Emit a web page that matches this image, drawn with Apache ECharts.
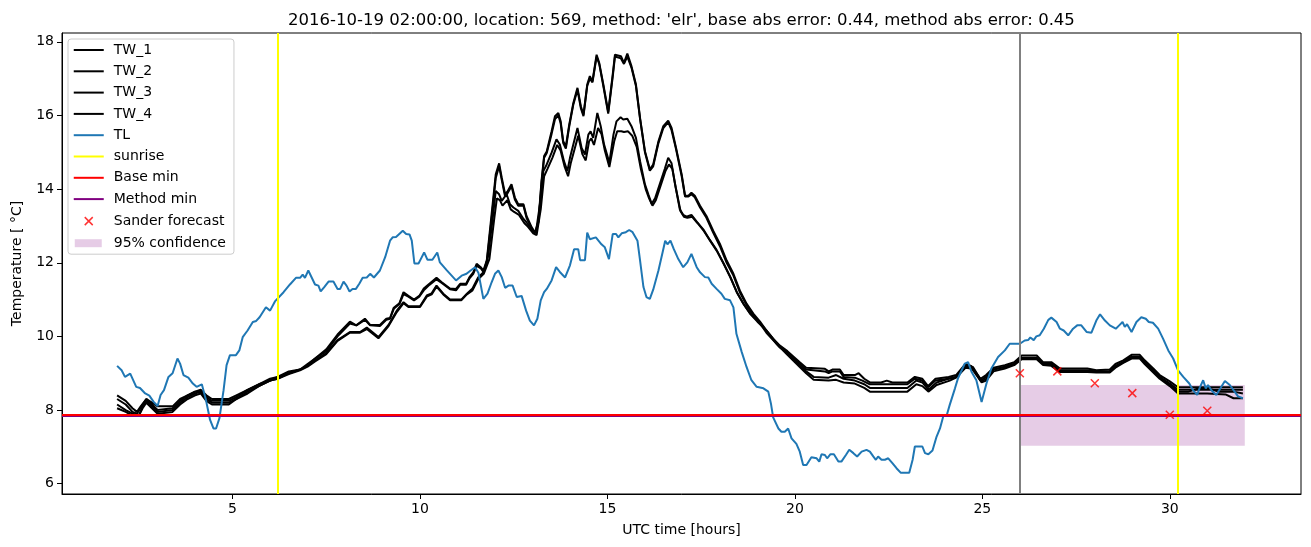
<!DOCTYPE html>
<html>
<head>
<meta charset="utf-8">
<script src="https://cdn.jsdelivr.net/npm/echarts@6/dist/echarts.min.js"></script>
<style>
html,body{margin:0;padding:0;background:#fff;}
#chart{width:1311px;height:547px;}
</style>
</head>
<body>
<div id="chart"></div>
<script>
const titleText = "2016-10-19 02:00:00, location: 569, method: 'elr', base abs error: 0.44, method abs error: 0.45";
const xTicks = [5, 10, 15, 20, 25, 30];
const yTicks = [6, 8, 10, 12, 14, 16, 18];

const tw1 = [[1.92,8.4],[2.15,8.25],[2.33,8.05],[2.45,7.95],[2.55,8.1],[2.7,8.3],[2.85,8.2],[3.0,8.1],[3.4,8.1],[3.6,8.3],[3.8,8.4],[4.0,8.5],[4.15,8.55],[4.3,8.4],[4.45,8.3],[4.9,8.3],[5.1,8.4],[5.4,8.55],[5.7,8.7],[6.0,8.85],[6.2,8.9],[6.5,9.05],[6.8,9.1],[7.0,9.25],[7.2,9.4],[7.5,9.65],[7.8,10.05],[8.13,10.4],[8.3,10.3],[8.53,10.48],[8.67,10.31],[8.93,10.31],[9.1,10.48],[9.2,10.5],[9.3,10.78],[9.45,10.9],[9.56,11.2],[9.69,11.1],[9.84,11.0],[9.98,11.1],[10.1,11.3],[10.25,11.43],[10.44,11.59],[10.58,11.47],[10.8,11.3],[10.96,11.29],[11.07,11.43],[11.23,11.43],[11.32,11.61],[11.42,11.74],[11.51,11.97],[11.62,11.88],[11.69,11.79],[11.78,12.06],[11.91,13.32],[12.02,14.4],[12.11,14.7],[12.18,14.31],[12.27,13.86],[12.33,13.93],[12.44,14.13],[12.53,13.77],[12.62,13.59],[12.76,13.59],[12.84,13.27],[12.98,12.96],[13.07,12.82],[13.16,13.14],[13.24,14.22],[13.31,14.9],[13.38,15.02],[13.51,15.57],[13.6,15.98],[13.69,16.07],[13.75,15.85],[13.82,15.3],[13.89,15.16],[13.98,15.75],[14.09,16.34],[14.2,16.75],[14.29,16.25],[14.36,16.02],[14.46,16.84],[14.53,17.07],[14.6,16.93],[14.71,17.65],[14.78,17.43],[14.89,16.84],[15.02,16.1],[15.14,17.11],[15.2,17.65],[15.36,17.61],[15.44,17.43],[15.53,17.68],[15.64,17.34],[15.76,16.84],[15.87,15.93],[16.0,15.03],[16.13,14.54],[16.22,14.67],[16.36,15.3],[16.49,15.71],[16.62,15.86],[16.71,15.66],[16.83,15.12],[16.98,14.4],[17.07,13.82],[17.16,13.82],[17.24,13.9],[17.33,13.82],[17.47,13.55],[17.64,13.27],[17.82,12.87],[18.0,12.51],[18.18,12.06],[18.36,11.7],[18.53,11.25],[18.71,10.89],[18.89,10.62],[19.07,10.4],[19.24,10.16],[19.42,9.94],[19.6,9.75],[19.8,9.6],[20.13,9.3],[20.3,9.15],[20.8,9.12],[20.9,9.05],[21.0,9.1],[21.2,9.1],[21.3,8.95],[21.6,8.95],[21.7,9.0],[21.85,8.85],[22.0,8.75],[22.3,8.75],[22.45,8.8],[22.6,8.75],[23.0,8.75],[23.2,8.9],[23.4,8.85],[23.55,8.65],[23.75,8.85],[24.1,8.9],[24.3,8.95],[24.55,9.25],[24.7,9.2],[24.95,8.85],[25.1,8.95],[25.3,9.15],[25.6,9.22],[25.85,9.3],[26.05,9.48],[26.45,9.48],[26.62,9.3],[26.84,9.3],[27.07,9.13],[27.8,9.13],[28.04,9.08],[28.4,9.1],[28.55,9.25],[28.76,9.35],[28.98,9.5],[29.2,9.5],[29.33,9.35],[29.56,9.13],[29.73,8.95],[30.0,8.78],[30.22,8.62],[31.95,8.62]];

const tw2 = [[1.92,8.3],[2.15,8.15],[2.33,7.95],[2.45,7.9],[2.6,8.15],[2.7,8.3],[2.85,8.15],[3.0,8.0],[3.4,8.05],[3.6,8.25],[3.8,8.4],[4.0,8.5],[4.15,8.5],[4.3,8.35],[4.45,8.25],[4.9,8.25],[5.1,8.35],[5.4,8.55],[5.7,8.7],[6.0,8.8],[6.2,8.9],[6.5,9.0],[6.8,9.1],[7.0,9.2],[7.2,9.4],[7.5,9.6],[7.8,10.0],[8.13,10.35],[8.3,10.3],[8.53,10.45],[8.67,10.3],[8.93,10.28],[9.1,10.45],[9.2,10.48],[9.3,10.75],[9.45,10.88],[9.56,11.15],[9.69,11.08],[9.84,10.98],[9.98,11.08],[10.1,11.25],[10.25,11.4],[10.44,11.55],[10.58,11.45],[10.8,11.28],[10.96,11.25],[11.07,11.4],[11.23,11.4],[11.32,11.58],[11.42,11.7],[11.51,11.92],[11.62,11.85],[11.69,11.75],[11.78,12.0],[11.91,13.2],[12.02,14.3],[12.11,14.62],[12.18,14.25],[12.27,13.8],[12.33,13.88],[12.44,14.08],[12.53,13.72],[12.62,13.55],[12.76,13.55],[12.84,13.22],[12.98,12.92],[13.07,12.8],[13.16,13.1],[13.24,14.15],[13.31,14.85],[13.38,14.98],[13.51,15.5],[13.6,15.9],[13.69,16.0],[13.75,15.8],[13.82,15.25],[13.89,15.1],[13.98,15.7],[14.09,16.3],[14.2,16.7],[14.29,16.2],[14.36,15.98],[14.46,16.8],[14.53,17.0],[14.6,16.9],[14.71,17.6],[14.78,17.4],[14.89,16.8],[15.02,16.05],[15.14,17.05],[15.2,17.6],[15.36,17.55],[15.44,17.4],[15.53,17.6],[15.64,17.3],[15.76,16.8],[15.87,15.9],[16.0,15.0],[16.13,14.5],[16.22,14.62],[16.36,15.25],[16.49,15.66],[16.62,15.82],[16.71,15.6],[16.83,15.08],[16.98,14.35],[17.07,13.8],[17.16,13.8],[17.24,13.86],[17.33,13.78],[17.47,13.5],[17.64,13.22],[17.82,12.82],[18.0,12.45],[18.18,12.0],[18.36,11.65],[18.53,11.2],[18.71,10.85],[18.89,10.56],[19.07,10.35],[19.24,10.1],[19.42,9.9],[19.6,9.7],[19.8,9.55],[20.13,9.25],[20.3,9.1],[20.8,9.05],[20.9,9.0],[21.0,9.05],[21.2,9.05],[21.3,8.9],[21.6,8.88],[21.8,8.8],[22.0,8.7],[22.4,8.7],[23.0,8.7],[23.2,8.85],[23.4,8.8],[23.55,8.62],[23.75,8.8],[24.1,8.85],[24.3,8.9],[24.55,9.2],[24.7,9.15],[24.95,8.8],[25.1,8.9],[25.3,9.1],[25.6,9.18],[25.85,9.25],[26.05,9.42],[26.45,9.42],[26.62,9.25],[26.84,9.25],[27.07,9.08],[27.8,9.08],[28.04,9.05],[28.4,9.05],[28.55,9.2],[28.76,9.3],[28.98,9.45],[29.2,9.45],[29.33,9.3],[29.56,9.08],[29.73,8.9],[30.0,8.72],[30.22,8.55],[31.95,8.55]];

const tw3 = [[1.92,8.15],[2.15,8.0],[2.33,7.9],[2.5,7.85],[2.6,8.1],[2.7,8.25],[2.85,8.1],[3.0,7.95],[3.4,8.0],[3.6,8.2],[3.8,8.35],[4.0,8.45],[4.15,8.5],[4.3,8.3],[4.45,8.2],[4.9,8.2],[5.1,8.3],[5.4,8.5],[5.7,8.65],[6.0,8.8],[6.2,8.85],[6.5,9.0],[6.8,9.1],[7.0,9.2],[7.2,9.35],[7.5,9.55],[7.8,9.9],[8.13,10.12],[8.4,10.12],[8.58,10.24],[8.89,9.98],[9.16,10.31],[9.38,10.7],[9.56,10.93],[9.69,10.82],[10.0,10.82],[10.18,11.11],[10.31,11.17],[10.44,11.38],[10.62,11.16],[10.8,11.0],[11.1,11.0],[11.25,11.16],[11.4,11.3],[11.55,11.6],[11.7,11.75],[11.82,12.2],[11.95,13.3],[12.02,13.95],[12.11,13.86],[12.18,13.68],[12.31,13.86],[12.4,13.59],[12.49,13.5],[12.62,13.41],[12.76,13.19],[12.84,13.1],[13.0,12.87],[13.09,12.82],[13.2,13.59],[13.29,14.49],[13.38,14.67],[13.51,14.99],[13.64,15.35],[13.73,15.21],[13.84,14.76],[13.93,14.49],[14.0,14.85],[14.2,15.66],[14.31,15.12],[14.4,14.94],[14.49,15.48],[14.55,15.57],[14.62,15.39],[14.73,16.07],[14.82,15.71],[14.91,15.21],[15.05,14.72],[15.16,15.48],[15.24,15.84],[15.35,15.95],[15.42,15.89],[15.53,15.91],[15.64,15.71],[15.76,15.39],[15.87,14.76],[16.0,14.13],[16.09,13.86],[16.18,13.6],[16.27,13.75],[16.4,14.15],[16.53,14.55],[16.62,14.85],[16.71,14.7],[16.8,14.15],[16.93,13.45],[17.02,13.3],[17.11,13.25],[17.24,13.3],[17.38,13.12],[17.56,12.9],[17.73,12.62],[17.91,12.35],[18.09,12.0],[18.27,11.63],[18.44,11.22],[18.62,10.9],[18.8,10.63],[18.98,10.45],[19.16,10.26],[19.33,10.05],[19.51,9.82],[19.8,9.55],[20.13,9.2],[20.3,9.05],[20.5,8.9],[20.9,8.88],[21.1,8.95],[21.3,8.85],[21.6,8.8],[21.85,8.7],[22.0,8.6],[23.0,8.6],[23.24,8.8],[23.4,8.75],[23.56,8.55],[23.78,8.75],[24.13,8.86],[24.3,8.9],[24.55,9.2],[24.75,9.17],[24.98,8.78],[25.1,8.85],[25.3,9.1],[25.6,9.17],[25.85,9.25],[26.05,9.4],[26.45,9.4],[26.62,9.25],[26.84,9.25],[27.07,9.05],[27.8,9.05],[28.04,9.05],[28.4,9.05],[28.55,9.18],[28.76,9.3],[28.98,9.42],[29.2,9.42],[29.33,9.28],[29.56,9.05],[29.73,8.88],[30.0,8.68],[30.22,8.5],[30.5,8.5],[30.8,8.6],[31.0,8.6],[31.3,8.5],[31.7,8.5],[31.95,8.45]];

const tw4 = [[1.92,8.05],[2.15,7.95],[2.33,7.85],[2.5,7.85],[2.6,8.05],[2.7,8.2],[2.85,8.05],[3.0,7.9],[3.4,7.95],[3.6,8.15],[3.8,8.3],[4.0,8.4],[4.15,8.45],[4.3,8.25],[4.45,8.15],[4.9,8.15],[5.1,8.3],[5.4,8.45],[5.7,8.65],[6.0,8.8],[6.2,8.85],[6.5,8.98],[6.8,9.08],[7.0,9.18],[7.2,9.32],[7.5,9.52],[7.8,9.88],[8.13,10.1],[8.4,10.1],[8.58,10.2],[8.89,9.95],[9.16,10.28],[9.38,10.66],[9.56,10.9],[9.69,10.8],[10.0,10.8],[10.18,11.08],[10.31,11.14],[10.44,11.35],[10.62,11.14],[10.8,10.98],[11.1,10.98],[11.25,11.14],[11.4,11.25],[11.55,11.55],[11.7,11.7],[11.85,12.1],[11.98,13.2],[12.05,13.75],[12.13,13.7],[12.2,13.55],[12.33,13.7],[12.42,13.45],[12.51,13.38],[12.64,13.3],[12.78,13.08],[12.86,13.0],[13.02,12.8],[13.11,12.75],[13.22,13.45],[13.31,14.35],[13.4,14.55],[13.53,14.85],[13.66,15.2],[13.75,15.05],[13.86,14.6],[13.95,14.35],[14.02,14.7],[14.22,15.45],[14.33,14.95],[14.42,14.78],[14.51,15.3],[14.57,15.38],[14.64,15.2],[14.75,15.66],[14.84,15.5],[14.93,15.05],[15.05,14.6],[15.18,15.3],[15.26,15.57],[15.37,15.57],[15.44,15.55],[15.55,15.57],[15.66,15.45],[15.78,15.15],[15.89,14.55],[16.02,14.0],[16.11,13.75],[16.2,13.55],[16.29,13.7],[16.42,14.1],[16.55,14.5],[16.64,14.67],[16.73,14.55],[16.82,14.05],[16.95,13.4],[17.04,13.25],[17.13,13.22],[17.26,13.25],[17.4,13.08],[17.58,12.85],[17.75,12.58],[17.93,12.3],[18.11,11.95],[18.29,11.58],[18.46,11.18],[18.64,10.86],[18.82,10.6],[19.0,10.4],[19.18,10.22],[19.35,10.0],[19.53,9.78],[19.8,9.5],[20.13,9.17],[20.3,9.0],[20.5,8.82],[20.9,8.8],[21.1,8.82],[21.3,8.75],[21.6,8.72],[21.85,8.6],[22.0,8.5],[23.0,8.5],[23.24,8.7],[23.4,8.65],[23.56,8.5],[23.78,8.68],[24.13,8.8],[24.3,8.88],[24.55,9.15],[24.75,9.12],[24.98,8.75],[25.1,8.8],[25.3,9.05],[25.6,9.13],[25.85,9.22],[26.05,9.38],[26.45,9.38],[26.62,9.22],[26.84,9.2],[27.07,9.03],[27.8,9.03],[28.04,9.02],[28.4,9.02],[28.55,9.15],[28.76,9.28],[28.98,9.4],[29.2,9.4],[29.33,9.25],[29.56,9.02],[29.73,8.85],[30.0,8.65],[30.22,8.45],[30.5,8.45],[31.0,8.45],[31.5,8.42],[31.7,8.32],[31.95,8.32]];

const tl = [[1.92,9.2],[2.04,9.08],[2.13,8.9],[2.27,8.99],[2.43,8.63],[2.53,8.6],[2.67,8.45],[2.78,8.39],[2.89,8.23],[3.0,8.11],[3.08,8.41],[3.17,8.54],[3.29,8.9],[3.4,9.0],[3.53,9.4],[3.6,9.26],[3.69,8.95],[3.82,8.88],[3.94,8.72],[4.04,8.63],[4.18,8.7],[4.29,8.27],[4.4,7.73],[4.49,7.5],[4.56,7.5],[4.65,7.78],[4.76,8.54],[4.84,9.22],[4.93,9.49],[5.09,9.49],[5.18,9.62],[5.27,9.98],[5.4,10.16],[5.54,10.39],[5.63,10.42],[5.72,10.52],[5.89,10.79],[6.0,10.7],[6.13,10.95],[6.36,11.2],[6.53,11.41],[6.69,11.59],[6.8,11.59],[6.87,11.68],[6.93,11.59],[7.02,11.79],[7.11,11.6],[7.2,11.41],[7.29,11.38],[7.35,11.22],[7.44,11.33],[7.56,11.49],[7.69,11.49],[7.8,11.29],[7.87,11.29],[7.96,11.49],[8.04,11.38],[8.12,11.22],[8.2,11.29],[8.29,11.29],[8.38,11.43],[8.47,11.59],[8.58,11.6],[8.67,11.7],[8.77,11.6],[8.93,11.79],[9.07,12.15],[9.2,12.6],[9.27,12.69],[9.36,12.7],[9.54,12.87],[9.63,12.78],[9.72,12.77],[9.78,12.6],[9.85,11.98],[9.96,11.98],[10.02,12.1],[10.11,12.28],[10.2,12.08],[10.33,12.08],[10.46,12.28],[10.53,12.01],[10.71,11.8],[10.96,11.52],[11.11,11.65],[11.24,11.7],[11.35,11.79],[11.47,11.88],[11.56,11.72],[11.69,11.02],[11.8,11.16],[11.91,11.47],[12.0,11.7],[12.09,11.79],[12.18,11.61],[12.27,11.32],[12.36,11.38],[12.47,11.38],[12.58,11.07],[12.71,11.1],[12.83,10.7],[12.93,10.43],[13.04,10.3],[13.13,10.48],[13.22,10.98],[13.31,11.2],[13.38,11.29],[13.51,11.52],[13.63,11.88],[13.73,11.75],[13.87,11.6],[14.0,11.93],[14.11,12.37],[14.22,12.37],[14.27,12.07],[14.4,12.07],[14.46,12.82],[14.53,12.64],[14.69,12.69],[14.84,12.5],[14.93,12.42],[15.04,12.1],[15.14,12.78],[15.23,12.78],[15.29,12.69],[15.38,12.8],[15.49,12.83],[15.58,12.89],[15.67,12.83],[15.8,12.6],[15.87,12.06],[15.96,11.34],[16.04,11.07],[16.13,11.02],[16.22,11.27],[16.36,11.79],[16.47,12.28],[16.54,12.6],[16.6,12.5],[16.68,12.6],[16.77,12.37],[16.89,12.1],[17.02,11.88],[17.13,12.01],[17.24,12.24],[17.29,12.28],[17.38,11.88],[17.47,11.74],[17.6,11.61],[17.69,11.6],[17.78,11.43],[17.91,11.29],[18.04,11.16],[18.13,11.02],[18.27,10.98],[18.36,10.79],[18.44,10.07],[18.58,9.58],[18.71,9.17],[18.84,8.81],[18.98,8.63],[19.16,8.59],[19.29,8.5],[19.36,8.18],[19.42,7.8],[19.56,7.5],[19.64,7.41],[19.73,7.41],[19.82,7.5],[19.91,7.23],[20.04,7.08],[20.13,6.87],[20.22,6.51],[20.31,6.51],[20.44,6.72],[20.58,6.69],[20.65,6.6],[20.71,6.8],[20.8,6.78],[20.86,6.69],[20.95,6.8],[21.04,6.8],[21.16,6.6],[21.24,6.6],[21.36,6.78],[21.45,6.92],[21.56,6.83],[21.66,6.74],[21.78,6.87],[21.91,6.92],[22.0,6.87],[22.09,6.74],[22.16,6.65],[22.22,6.74],[22.31,6.65],[22.4,6.65],[22.49,6.69],[22.6,6.56],[22.71,6.42],[22.82,6.3],[23.05,6.3],[23.14,6.65],[23.2,7.01],[23.4,7.01],[23.47,6.83],[23.56,6.8],[23.67,6.9],[23.78,7.28],[23.87,7.5],[23.96,7.84],[24.05,7.86],[24.13,8.14],[24.27,8.59],[24.35,8.86],[24.45,9.08],[24.53,9.26],[24.62,9.3],[24.71,9.04],[24.84,8.81],[24.98,8.22],[25.11,8.72],[25.24,9.13],[25.42,9.44],[25.6,9.62],[25.73,9.8],[26.0,9.8],[26.13,9.89],[26.22,9.9],[26.28,9.97],[26.37,9.9],[26.44,10.0],[26.53,10.03],[26.64,10.21],[26.76,10.45],[26.84,10.51],[26.98,10.39],[27.07,10.21],[27.17,10.16],[27.29,10.03],[27.42,10.21],[27.53,10.3],[27.64,10.3],[27.78,10.12],[27.91,10.1],[28.04,10.43],[28.14,10.6],[28.27,10.43],[28.4,10.3],[28.56,10.21],[28.65,10.3],[28.74,10.39],[28.8,10.26],[28.86,10.33],[28.98,10.12],[29.11,10.39],[29.24,10.52],[29.36,10.48],[29.44,10.39],[29.55,10.37],[29.69,10.21],[29.82,9.94],[29.96,9.62],[30.09,9.4],[30.22,9.08],[30.36,8.9],[30.52,8.72],[30.62,8.54],[30.73,8.41],[30.8,8.61],[30.89,8.81],[30.96,8.59],[31.02,8.68],[31.11,8.54],[31.24,8.41],[31.35,8.59],[31.47,8.79],[31.6,8.68],[31.73,8.5],[31.82,8.37],[31.95,8.32]];

const sunriseX = [6.2, 30.22];
const forecastStartX = [26];
const baseMin = [7.87];
const methodMin = [7.845];
const sanderX = [26, 27, 28, 29, 30, 31];
const sanderY = [9.0, 9.05, 8.73, 8.46, 7.87, 7.98];
const confX = [26, 32];
const confY = [7.03, 8.68];

const FONT = 'DejaVu Sans';
const chart = echarts.init(document.getElementById('chart'), null, {renderer: 'canvas'});

function twSeries(name, data) {
  return {
    name: name, type: 'line', data: data, symbol: 'none', z: 3,
    lineStyle: {color: '#000', width: 2}, itemStyle: {color: '#000'},
    emphasis: {disabled: true}, silent: true
  };
}
function vLineSeries(name, xs, color, z) {
  return {
    name: name, type: 'line', data: [], symbol: 'none', z: z,
    lineStyle: {color: color, width: 2}, itemStyle: {color: color},
    markLine: {
      silent: true, symbol: ['none', 'none'], animation: false,
      label: {show: false}, emphasis: {disabled: true},
      lineStyle: {color: color, width: 2, type: 'solid'},
      data: xs.map(v => ({xAxis: v}))
    }
  };
}
function hLineSeries(name, ys, color, z) {
  return {
    name: name, type: 'line', data: [], symbol: 'none', z: z,
    lineStyle: {color: color, width: 2}, itemStyle: {color: color},
    markLine: {
      silent: true, symbol: ['none', 'none'], animation: false,
      label: {show: false}, emphasis: {disabled: true},
      lineStyle: {color: color, width: 2, type: 'solid'},
      data: ys.map(v => ({yAxis: v}))
    }
  };
}

const xPath = 'path://M0,0 L10,10 M10,0 L0,10';
const confColor = 'rgba(128,0,128,0.2)';
const lineIcon = 'path://M0,0 M30,14 M0,6 L30,6 L30,8 L0,8 Z';
function lineItem(name, color) {
  return {name: name, icon: lineIcon, itemStyle: {color: color, borderWidth: 0}};
}

const option = {
  animation: false,
  backgroundColor: '#fff',
  textStyle: {fontFamily: FONT},
  title: {
    text: titleText, left: 283, top: 7,
    textStyle: {fontFamily: FONT, fontSize: 16.5, fontWeight: 'normal', color: '#000'}
  },
  grid: {left: 62, right: 10, top: 33, bottom: 53, show: true, borderColor: '#000', borderWidth: 1, backgroundColor: 'transparent'},
  legend: {
    orient: 'vertical', left: 68, top: 39,
    backgroundColor: 'rgba(255,255,255,0.8)', borderColor: '#cccccc', borderWidth: 1, borderRadius: 3,
    padding: [4, 8, 4, 5], itemWidth: 30, itemHeight: 14, itemGap: 7.3,
    textStyle: {fontFamily: FONT, fontSize: 14, color: '#000', padding: [0, 0, 0, 5]},
    selectedMode: false,
    data: [
      lineItem('TW_1', '#000'), lineItem('TW_2', '#000'), lineItem('TW_3', '#000'), lineItem('TW_4', '#000'),
      lineItem('TL', '#1f77b4'), lineItem('sunrise', '#ffff00'), lineItem('Base min', '#ff0000'), lineItem('Method min', '#800080'),
      {name: 'Sander forecast', icon: 'path://M0,0 M30,14 M11,3 L19,11 M19,3 L11,11', itemStyle: {color: 'rgba(0,0,0,0)', borderColor: '#ff0000', borderWidth: 1.5}},
      {name: '95% confidence', icon: 'path://M0,0 M30,14 M1,3 L28,3 L28,11 L1,11 Z', itemStyle: {color: confColor, borderWidth: 0}}
    ]
  },
  xAxis: {
    type: 'value', min: 0.45, max: 33.5,
    axisLine: {show: true, lineStyle: {color: '#000', width: 1}},
    axisTick: {show: true, length: 5, customValues: xTicks, lineStyle: {color: '#000'}},
    axisLabel: {customValues: xTicks, color: '#000', fontSize: 14, fontFamily: FONT, margin: 8},
    splitLine: {show: false},
    name: 'UTC time [hours]', nameLocation: 'middle', nameGap: 29,
    nameTextStyle: {fontFamily: FONT, fontSize: 14, color: '#000'}
  },
  yAxis: {
    type: 'value', min: 5.72, max: 18.24,
    axisLine: {show: true, lineStyle: {color: '#000', width: 1}},
    axisTick: {show: true, length: 5, customValues: yTicks, lineStyle: {color: '#000'}},
    axisLabel: {customValues: yTicks, color: '#000', fontSize: 14, fontFamily: FONT, margin: 8},
    splitLine: {show: false},
    name: 'Temperature [ °C]', nameLocation: 'middle', nameGap: 38,
    nameTextStyle: {fontFamily: FONT, fontSize: 14, color: '#000'}
  },
  series: [
    {
      name: '95% confidence', type: 'line', data: [], symbol: 'none', z: 1,
      lineStyle: {color: confColor, width: 0}, itemStyle: {color: confColor},
      markArea: {
        silent: true, label: {show: false}, emphasis: {disabled: true},
        itemStyle: {color: confColor, borderWidth: 0},
        data: [[{xAxis: confX[0], yAxis: confY[0]}, {xAxis: confX[1], yAxis: confY[1]}]]
      }
    },
    twSeries('TW_1', tw1),
    twSeries('TW_2', tw2),
    twSeries('TW_3', tw3),
    twSeries('TW_4', tw4),
    {
      name: 'TL', type: 'line', data: tl, symbol: 'none', z: 4,
      lineStyle: {color: '#1f77b4', width: 2}, itemStyle: {color: '#1f77b4'},
      emphasis: {disabled: true}, silent: true
    },
    vLineSeries('sunrise', sunriseX, '#ffff00', 5),
    vLineSeries('forecast start', forecastStartX, '#808080', 5),
    hLineSeries('Method min', methodMin, '#800080', 6),
    hLineSeries('Base min', baseMin, '#ff0000', 7),
    {
      name: 'Sander forecast', type: 'scatter', z: 8,
      data: sanderX.map((x, i) => [x, sanderY[i]]),
      symbol: xPath, symbolSize: 8,
      itemStyle: {color: 'rgba(0,0,0,0)', borderColor: '#ff0000', borderWidth: 1.5},
      emphasis: {disabled: true}, silent: true
    }
  ]
};
chart.setOption(option);
</script>
</body>
</html>
